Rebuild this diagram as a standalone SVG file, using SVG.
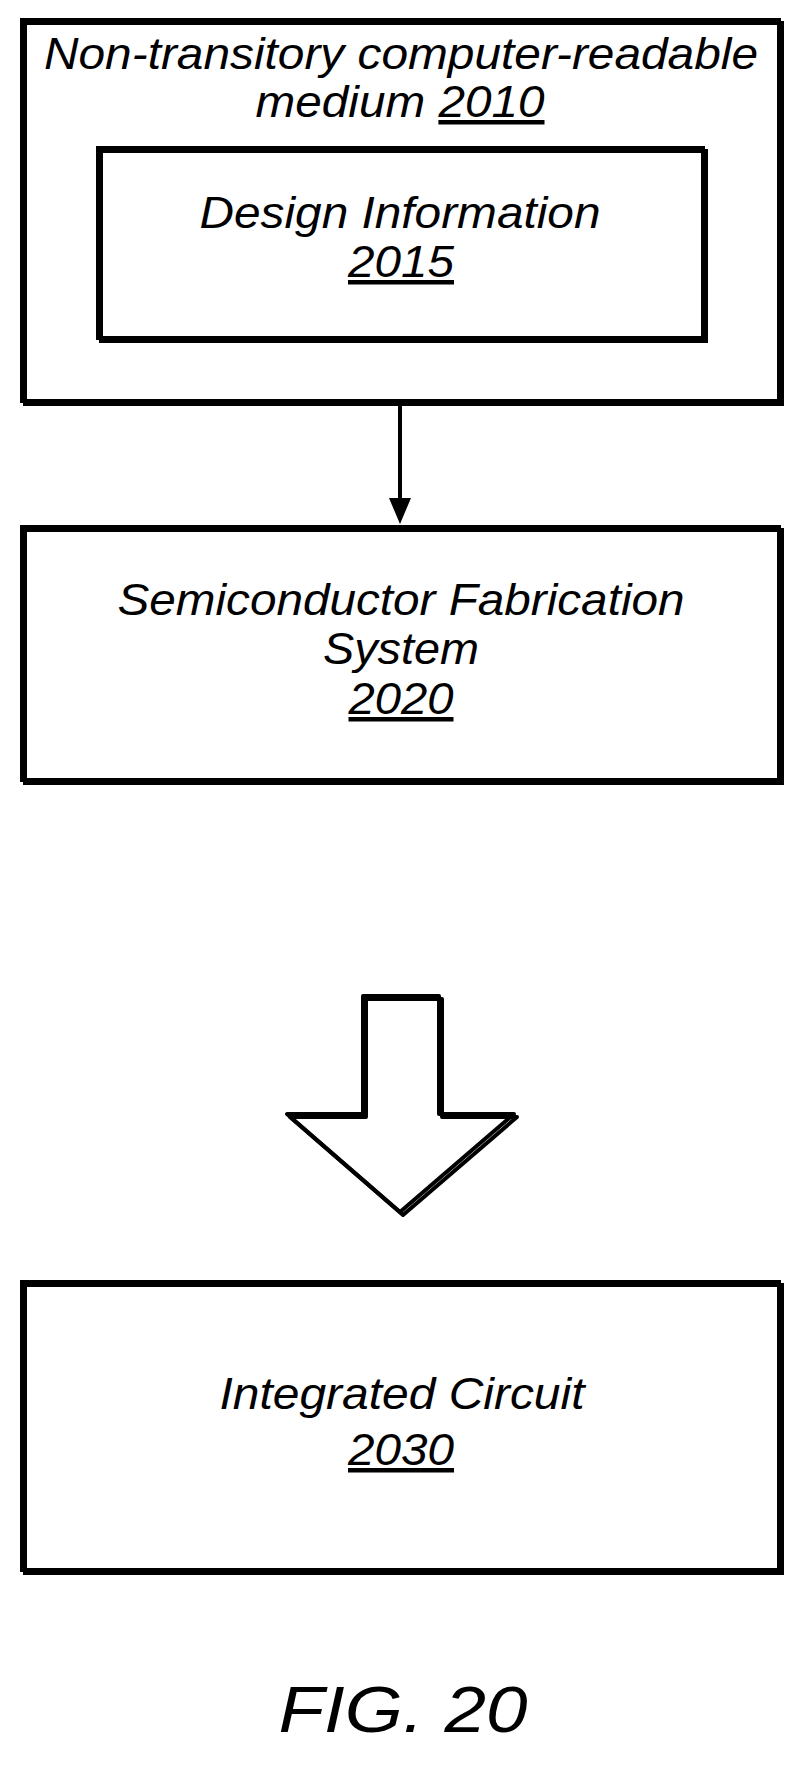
<svg xmlns="http://www.w3.org/2000/svg" width="800" height="1791" viewBox="0 0 800 1791">
<style>
.b{fill:none;stroke:#000;stroke-width:4}
.s{fill:none;stroke:#000;stroke-width:4}
text{font-family:"Liberation Sans",Arial,sans-serif;font-style:italic;font-size:45px;text-anchor:middle;fill:#000}
.u{text-decoration:underline}
</style>
<rect width="800" height="1791" fill="#fff"/>
<g id="medium">
<rect x="25" y="23" width="757" height="381" class="s"/>
<rect x="22" y="20" width="757" height="381" class="b" fill="#fff"/>
<text x="401" y="69" textLength="714" lengthAdjust="spacingAndGlyphs">Non-transitory computer-readable</text>
<text x="400" y="117" textLength="289" lengthAdjust="spacingAndGlyphs">medium <tspan class="u">2010</tspan></text>
</g>
<g id="design">
<rect x="101" y="151" width="605" height="190" class="s"/>
<rect x="98" y="148" width="605" height="190" class="b" fill="#fff"/>
<text x="400" y="228" textLength="401" lengthAdjust="spacingAndGlyphs">Design Information</text>
<text x="401" y="277" class="u" textLength="106" lengthAdjust="spacingAndGlyphs">2015</text>
</g>
<g id="fab">
<rect x="25" y="530" width="757" height="253" class="s"/>
<rect x="22" y="527" width="757" height="253" class="b" fill="#fff"/>
<text x="401" y="615" textLength="567" lengthAdjust="spacingAndGlyphs">Semiconductor Fabrication</text>
<text x="401" y="664" textLength="156" lengthAdjust="spacingAndGlyphs">System</text>
<text x="401" y="714" class="u" textLength="105" lengthAdjust="spacingAndGlyphs">2020</text>
</g>
<g id="ic">
<rect x="25" y="1285" width="757" height="288" class="s"/>
<rect x="22" y="1282" width="757" height="288" class="b" fill="#fff"/>
<text x="402" y="1409" textLength="365" lengthAdjust="spacingAndGlyphs">Integrated Circuit</text>
<text x="401" y="1465" class="u" textLength="106" lengthAdjust="spacingAndGlyphs">2030</text>
</g>
<g id="connectors">
<line x1="400" y1="401" x2="400" y2="500" stroke="#000" stroke-width="4"/>
<path d="M389,498 L411,498 L400,524 Z" fill="#000"/>
<path d="M366,999 L442,999 L442,1117 L517,1117 L403,1215 L290,1117 L366,1117 Z" class="s" stroke-linejoin="round"/>
<path d="M363,996 L439,996 L439,1114 L514,1114 L400,1212 L287,1114 L363,1114 Z" class="b" fill="#fff" stroke-linejoin="round"/>
</g>
<text x="403" y="1732" style="font-size:64px" textLength="249" lengthAdjust="spacingAndGlyphs">FIG. 20</text>
</svg>
